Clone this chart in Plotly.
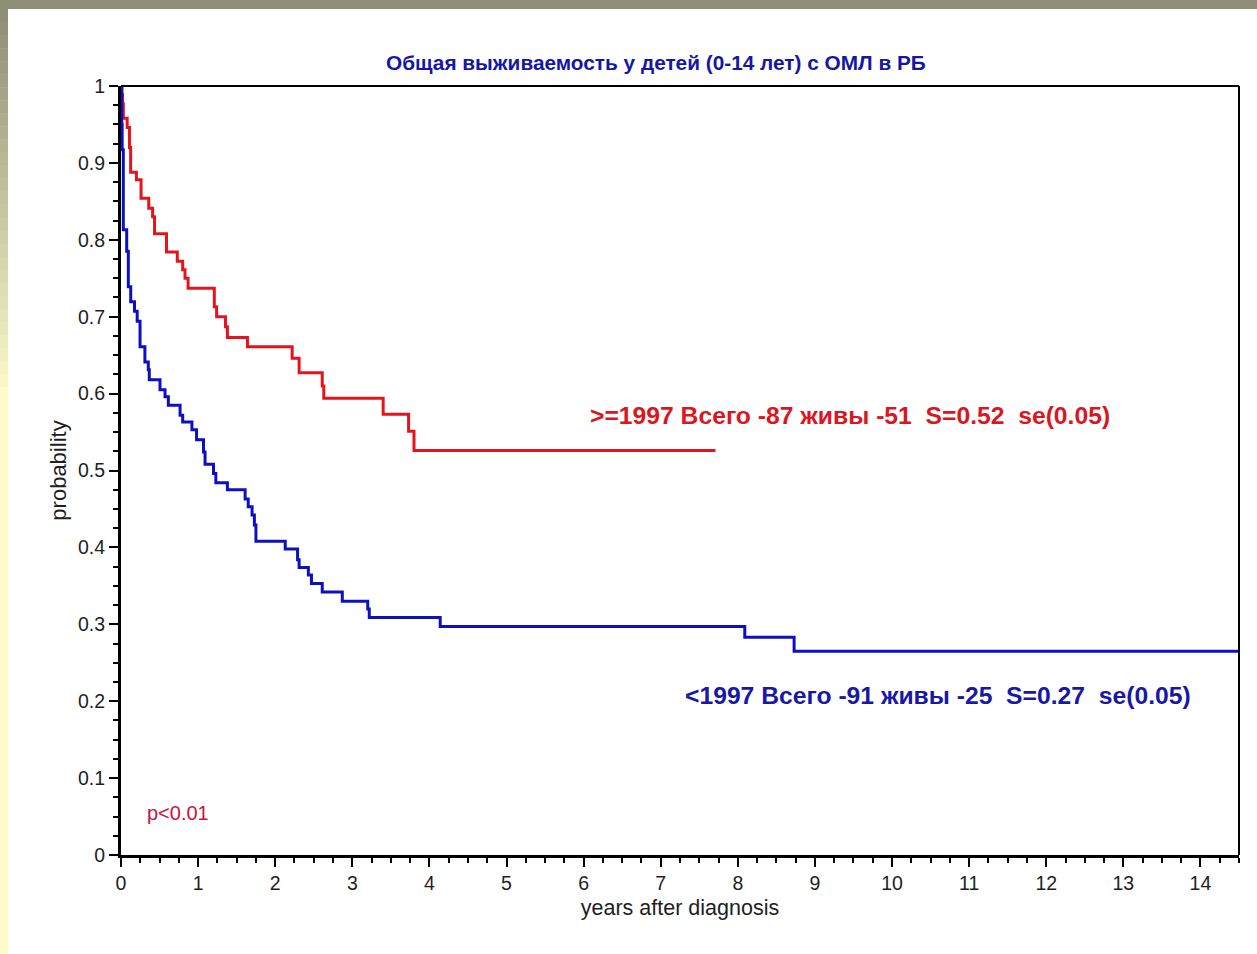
import plotly.graph_objects as go

# ---- data ----
red_t = [0, 0.01, 0.02, 0.03, 0.08, 0.11, 0.125, 0.20, 0.26, 0.36, 0.41, 0.435, 0.59,
         0.73, 0.80, 0.83, 0.87, 1.21, 1.24, 1.355, 1.38, 1.64, 2.22, 2.31, 2.61, 2.63,
         3.40, 3.73, 3.80, 7.71]
red_s = [1.0, 0.989, 0.977, 0.958, 0.946, 0.92, 0.888, 0.878, 0.854, 0.841, 0.830, 0.808,
         0.784, 0.772, 0.761, 0.750, 0.737, 0.713, 0.700, 0.687, 0.673, 0.661, 0.646,
         0.627, 0.610, 0.594, 0.573, 0.551, 0.526, 0.526]

blue_t = [0, 0.01, 0.015, 0.03, 0.074, 0.095, 0.126, 0.175, 0.21, 0.247, 0.31, 0.354,
          0.367, 0.506, 0.571, 0.614, 0.766, 0.80, 0.92, 0.98, 1.07, 1.09, 1.20, 1.23,
          1.38, 1.61, 1.65, 1.70, 1.73, 1.75, 2.13, 2.29, 2.31, 2.43, 2.47, 2.61, 2.87,
          3.20, 3.22, 4.14, 8.09, 8.73, 14.5]
blue_s = [1.0, 0.95, 0.917, 0.813, 0.785, 0.739, 0.7195, 0.707, 0.694, 0.661, 0.641, 0.631,
          0.618, 0.605, 0.596, 0.585, 0.572, 0.563, 0.553, 0.540, 0.524, 0.508, 0.496,
          0.484, 0.475, 0.463, 0.453, 0.442, 0.429, 0.408, 0.398, 0.384, 0.374, 0.364,
          0.353, 0.342, 0.330, 0.320, 0.309, 0.297, 0.283, 0.265, 0.265]

title_text = "Общая выживаемость у детей (0-14 лет) с ОМЛ в РБ"
red_label = ">=1997 Всего -87 живы -51 \u00a0S=0.52 \u00a0se(0.05)"
blue_label = "<1997 Всего -91 живы -25 \u00a0S=0.27 \u00a0se(0.05)"
p_label = "p<0.01"
x_title = "years after diagnosis"
y_title = "probability"

RED = "#e3141c"
BLUE = "#0c10c2"
REG = "Liberation Sans, Arial, sans-serif"
TICKFONT = dict(family=REG, size=19.5, color="#1e1e1e")
BOLD = "Liberation Sans, Arial, sans-serif"

fig = go.Figure()
fig.add_trace(go.Scatter(x=red_t, y=red_s, mode="lines", line=dict(color=RED, width=3, shape="hv"),
                         showlegend=False, hoverinfo="skip"))
fig.add_trace(go.Scatter(x=blue_t, y=blue_s, mode="lines", line=dict(color=BLUE, width=3, shape="hv"),
                         showlegend=False, hoverinfo="skip"))

W, H = 1257, 954
L, R, T, B = 121, 1239, 86, 855
fig.update_layout(
    width=W, height=H,
    margin=dict(l=L, r=W - R, t=T, b=H - B, pad=0),
    paper_bgcolor="white", plot_bgcolor="white",
    showlegend=False,
)
fig.update_xaxes(
    range=[0, 14.5], dtick=1, tick0=0, showgrid=False, zeroline=False,
    showline=True, linecolor="black", linewidth=3,
    ticks="outside", ticklen=9, tickwidth=1.5, tickcolor="black",
    tickfont=TICKFONT,
    minor=dict(dtick=0.25, ticks="outside", ticklen=5, tickwidth=1.5, tickcolor="black"),
    title=dict(text=x_title, font=dict(family=REG, size=21.5, color="#1e1e1e"), standoff=7),
)
fig.update_yaxes(
    range=[0, 1], dtick=0.1, tick0=0, showgrid=False, zeroline=False,
    showline=True, linecolor="black", linewidth=3,
    ticks="outside", ticklen=9, tickwidth=1.5, tickcolor="black",
    tickfont=TICKFONT,
    minor=dict(dtick=0.025, ticks="outside", ticklen=5, tickwidth=1.5, tickcolor="black"),
    title=dict(text=y_title, font=dict(family=REG, size=22, color="#1e1e1e"), standoff=6),
)

shapes = []
# top and right frame lines
shapes.append(dict(type="line", xref="paper", yref="paper", x0=0, x1=1, y0=1, y1=1,
                   line=dict(color="black", width=2)))
shapes.append(dict(type="line", xref="paper", yref="paper", x0=1, x1=1, y0=0, y1=1,
                   line=dict(color="black", width=2)))
# decorative page bands (top olive band, left gradient band)
pw, ph = R - L, B - T
def px2paper_x(px):
    return (px - L) / pw
def py2paper_y(py):
    return (B - py) / ph
shapes.append(dict(type="rect", xref="paper", yref="paper", layer="above",
                   x0=px2paper_x(0), x1=px2paper_x(W), y0=py2paper_y(9), y1=py2paper_y(0),
                   fillcolor="#8e8f77", line=dict(width=0)))
top_c = (0x8e, 0x8f, 0x77)
bot_c = (0xfd, 0xfb, 0xcb)
steps = 30
y_start, y_end = 9, 400
for i in range(steps):
    f = i / (steps - 1)
    c = tuple(int(top_c[k] + (bot_c[k] - top_c[k]) * f) for k in range(3))
    y0 = y_start + (y_end - y_start) * i / steps
    y1 = y_start + (y_end - y_start) * (i + 1) / steps
    shapes.append(dict(type="rect", xref="paper", yref="paper", layer="above",
                       x0=px2paper_x(0), x1=px2paper_x(8), y0=py2paper_y(y1 + 0.5), y1=py2paper_y(y0),
                       fillcolor="rgb(%d,%d,%d)" % c, line=dict(width=0)))
shapes.append(dict(type="rect", xref="paper", yref="paper", layer="above",
                   x0=px2paper_x(0), x1=px2paper_x(8), y0=py2paper_y(H), y1=py2paper_y(y_end),
                   fillcolor="rgb(%d,%d,%d)" % bot_c, line=dict(width=0)))
fig.update_layout(shapes=shapes)

annotations = [
    dict(text="<b>%s</b>" % title_text, xref="paper", yref="paper",
         x=px2paper_x(656), y=py2paper_y(62), xanchor="center", yanchor="middle", showarrow=False,
         font=dict(family=BOLD, size=20.8, color="#1616a6")),
    dict(text="<b>%s</b>" % red_label, xref="x", yref="y", x=6.06, y=0.571,
         xanchor="left", yanchor="middle", showarrow=False,
         font=dict(family=BOLD, size=24.7, color="#dc1620")),
    dict(text="<b>%s</b>" % blue_label, xref="x", yref="y", x=7.29, y=0.208,
         xanchor="left", yanchor="middle", showarrow=False,
         font=dict(family=BOLD, size=24.7, color="#1818a8")),
    dict(text=p_label, xref="x", yref="y", x=0.31, y=0.055,
         xanchor="left", yanchor="middle", showarrow=False,
         font=dict(family=REG, size=20, color="#cc1240")),
]
fig.update_layout(annotations=annotations)

fig.write_html("out.html", config={"displayModeBar": False},
               post_script="document.body.style.margin='0';document.body.style.overflow='hidden';")
